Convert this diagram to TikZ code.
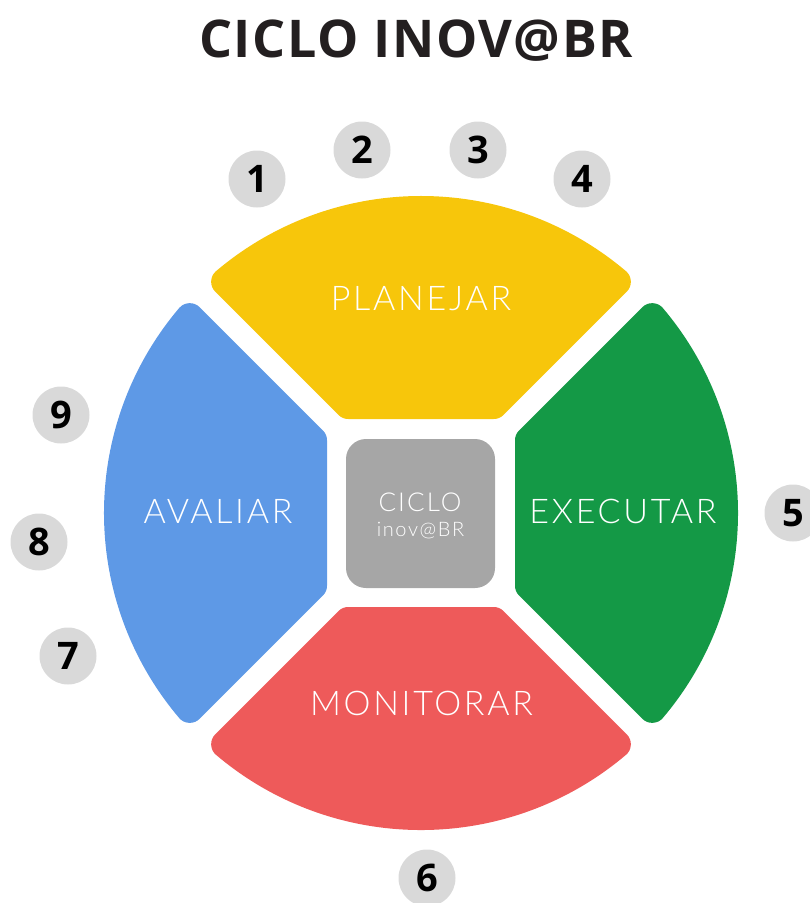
\documentclass[tikz,border=0pt]{standalone}
\usepackage{fontspec}
\newfontfamily\titlefont{Open Sans}[LetterSpace=3]
\newfontfamily\numfont{Open Sans}
\IfFontExistsTF{Lato Light}
  {\newfontfamily\labfont{Lato Light}[LetterSpace=8]}
  {\newfontfamily\labfont{Lato}[LetterSpace=8]}
\definecolor{cyellow}{HTML}{F7C60B}
\definecolor{cblue}{HTML}{5E99E6}
\definecolor{cgreen}{HTML}{149946}
\definecolor{cred}{HTML}{EE5A5A}
\definecolor{cbox}{HTML}{A6A6A6}
\definecolor{cnum}{HTML}{D9D9D9}
\definecolor{ctitle}{HTML}{231F20}
\begin{document}
\begin{tikzpicture}[x=1pt,y=1pt,
  seg/.style={fill=#1,draw=#1,line width=28pt,line join=round},
  lab/.style={text=white,font=\labfont\fontsize{34}{34}\selectfont,inner sep=0pt,anchor=base},
  num/.style={circle,fill=cnum,minimum size=57pt,inner sep=0pt,text=black,font=\numfont\bfseries\fontsize{38}{38}\selectfont}]
\useasboundingbox (0,0) rectangle (810,-903);
% segments
\begin{scope}[shift={(421,-513)},rotate=0]
\path[seg=cyellow] (-72.64,108) -- (-195.85,231.21) arc[start angle=130.27,end angle=49.73,radius=303] -- (72.64,108) -- cycle;
\end{scope}
\begin{scope}[shift={(421,-513)},rotate=90]
\path[seg=cblue] (-72.64,108) -- (-195.85,231.21) arc[start angle=130.27,end angle=49.73,radius=303] -- (72.64,108) -- cycle;
\end{scope}
\begin{scope}[shift={(421,-513)},rotate=180]
\path[seg=cred] (-72.64,108) -- (-195.85,231.21) arc[start angle=130.27,end angle=49.73,radius=303] -- (72.64,108) -- cycle;
\end{scope}
\begin{scope}[shift={(421,-513)},rotate=270]
\path[seg=cgreen] (-72.64,108) -- (-195.85,231.21) arc[start angle=130.27,end angle=49.73,radius=303] -- (72.64,108) -- cycle;
\end{scope}
% center box
\node[fill=cbox,rounded corners=20pt,minimum width=149pt,minimum height=149pt,inner sep=0pt] (box) at (420.5,-513.5) {};
\node[lab,font=\labfont\fontsize{26}{26}\selectfont] (ciclo) at (420,-511) {CICLO};
\node[lab,font=\labfont\fontsize{20}{20}\selectfont] (inov) at (420.5,-536) {inov@BR};
% labels
\node[lab] (planejar) at (421,-310) {PLANEJAR};
\node[lab] (avaliar) at (218,-523) {AVALIAR};
\node[lab] (executar) at (623,-523) {EXECUTAR};
\node[lab] (monitorar) at (421.5,-715) {MONITORAR};
% title
\node[anchor=base,inner sep=0pt,text=ctitle,font=\titlefont\bfseries\fontsize{52}{52}\selectfont] (title) at (416,-57) {CICLO INOV@BR};
% numbers
\node[num] (n1) at (257,-179) {1};
\node[num] (n2) at (362,-150) {2};
\node[num] (n3) at (478,-150) {3};
\node[num] (n4) at (582,-179) {4};
\node[num] (n5) at (793,-513) {5};
\node[num] (n6) at (427,-878) {6};
\node[num] (n7) at (68,-656) {7};
\node[num] (n8) at (39,-542) {8};
\node[num] (n9) at (61,-415) {9};
\end{tikzpicture}
\end{document}
